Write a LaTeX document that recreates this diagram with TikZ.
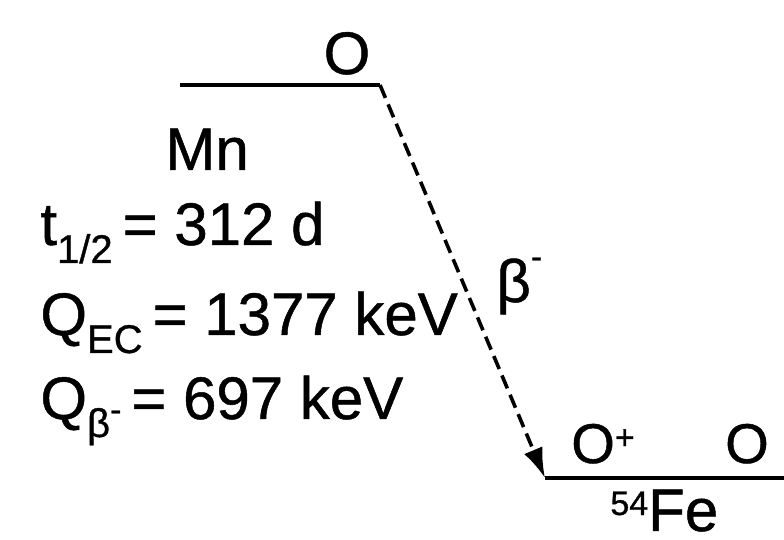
\documentclass[tikz,border=0pt]{standalone}
\usepackage{fontspec}
\setmainfont{Liberation Sans}[FakeBold=0.8]
\usetikzlibrary{arrows.meta, positioning}
\newcommand{\lowidx}[1]{\raisebox{-9pt}{\fontsize{20}{24}\selectfont #1}}
\newcommand{\highidx}[2][8pt]{\raisebox{#1}{\fontsize{17}{20}\selectfont #2}}

\begin{document}
\begin{tikzpicture}[
  x=0.5pt, y=-0.5pt,
  lvl/.style={line width=1.7pt},
  decay/.style={line width=1.8pt, dash pattern=on 7pt off 3.5pt, -{Latex[length=15pt, width=10pt]}},
  lbl/.style={font=\fontsize{30}{34}\selectfont, inner sep=0pt},
  spin/.style={font=\fontsize{28}{30}\selectfont, inner sep=0pt, anchor=base}
]
  \useasboundingbox (0,0) rectangle (784,540);

  % ── Parent level (Mn) ──
  \coordinate (mnL) at (180,85);
  \coordinate (mnR) at (380,85);
  \draw[lvl] (mnL) -- (mnR);
  \node[lbl, anchor=base] (mnSpin) at (347,74) {O};

  \node[lbl, anchor=base west] (mn) at (165,170) {Mn};
  \node[lbl, anchor=base west] (thalf) at (40,245) {t\lowidx{1/2}\,= 312 d};
  \node[lbl, anchor=base west] (qec) at (40,335) {Q\lowidx{EC}\,= 1377 keV};
  \node[lbl, anchor=base west] (qbeta) at (40,419) {Q\lowidx{β\highidx{-}}\,= 697 keV};

  % ── Daughter level (Fe) ──
  \coordinate (feL) at (545,478);
  \coordinate (feR) at (784,478);
  \draw[lvl] (feL) -- (feR);
  \node[spin] (feSpinA) at (603,463) {O\highidx[7pt]{+}};
  \node[spin] (feSpinB) at (747,463) {O};
  \node[lbl, anchor=base west] (fe) at (610,531) {\highidx{54}Fe};

  % ── Decay ──
  \draw[decay] (mnR) -- (feL);
  \node[lbl, anchor=base west] (beta) at (496,302) {β\highidx[17pt]{-}};
\end{tikzpicture}
\end{document}
